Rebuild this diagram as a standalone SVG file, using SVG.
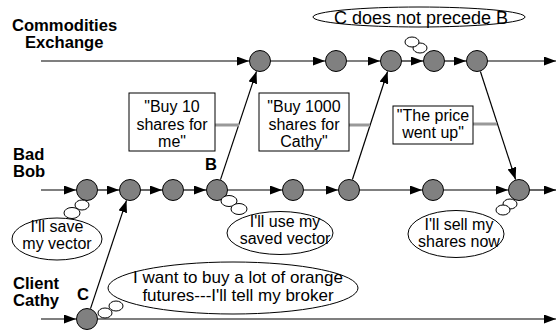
<svg xmlns="http://www.w3.org/2000/svg" width="558" height="330" viewBox="0 0 558 330">
  <style>
    .lane { font-family: "Liberation Sans", Arial, sans-serif; font-size: 16.6px; font-weight: bold; fill: #000; }
    .txt { font-family: "Liberation Sans", Arial, sans-serif; font-size: 16px; fill: #000; }
    .mid { text-anchor: middle; }
    .line { stroke: #000; stroke-width: 1.2; fill: none; }
    .ev { fill: #808080; stroke: #000; stroke-width: 1; }
    .bubble { fill: #fff; stroke: #000; stroke-width: 1; }
    .box { fill: #fff; stroke: #000; stroke-width: 1; }
    .link { stroke: #999; stroke-width: 3; }
  </style>
  <defs>
    <marker id="arr" markerUnits="userSpaceOnUse" markerWidth="12" markerHeight="9" refX="12" refY="4.5" orient="auto">
      <path d="M0,0 L12,4.5 L0,9 z" fill="#000"/>
    </marker>
  </defs>

  <rect width="558" height="330" fill="#fff"/>

  <!-- lane labels -->
  <g id="lane-labels">
    <text class="lane" x="12" y="31">Commodities</text>
    <text class="lane" x="25" y="48">Exchange</text>
    <text class="lane" x="13" y="160">Bad</text>
    <text class="lane" x="13" y="177">Bob</text>
    <text class="lane" x="13" y="289">Client</text>
    <text class="lane" x="13" y="306">Cathy</text>
    <text class="lane" x="205" y="170">B</text>
    <text class="lane" x="77" y="300">C</text>
  </g>

  <!-- connectors: timelines, messages, note links -->
  <g id="connectors">
    <!-- exchange timeline -->
    <line class="line" x1="41" y1="61" x2="249" y2="61" marker-end="url(#arr)"/>
    <line class="line" x1="271" y1="61" x2="325" y2="61" marker-end="url(#arr)"/>
    <line class="line" x1="347" y1="61" x2="380" y2="61" marker-end="url(#arr)"/>
    <line class="line" x1="402" y1="61" x2="423" y2="61" marker-end="url(#arr)"/>
    <line class="line" x1="445" y1="61" x2="466" y2="61" marker-end="url(#arr)"/>
    <line class="line" x1="488" y1="61" x2="556" y2="61" marker-end="url(#arr)"/>
    <!-- Bob timeline -->
    <line class="line" x1="41" y1="190" x2="76" y2="190" marker-end="url(#arr)"/>
    <line class="line" x1="98" y1="190" x2="119" y2="190" marker-end="url(#arr)"/>
    <line class="line" x1="141" y1="190" x2="162" y2="190" marker-end="url(#arr)"/>
    <line class="line" x1="184" y1="190" x2="206" y2="190" marker-end="url(#arr)"/>
    <line class="line" x1="228" y1="190" x2="282" y2="190" marker-end="url(#arr)"/>
    <line class="line" x1="304" y1="190" x2="338" y2="190" marker-end="url(#arr)"/>
    <line class="line" x1="360" y1="190" x2="422" y2="190" marker-end="url(#arr)"/>
    <line class="line" x1="444" y1="190" x2="508" y2="190" marker-end="url(#arr)"/>
    <line class="line" x1="530" y1="190" x2="556" y2="190" marker-end="url(#arr)"/>
    <!-- Cathy timeline -->
    <line class="line" x1="41" y1="319" x2="76" y2="319" marker-end="url(#arr)"/>
    <line class="line" x1="98" y1="319" x2="556" y2="319" marker-end="url(#arr)"/>
    <!-- messages -->
    <line class="line" x1="90.5" y1="308.6" x2="126.5" y2="200.4" marker-end="url(#arr)"/>
    <line class="line" x1="220.5" y1="179.6" x2="256.5" y2="71.4" marker-end="url(#arr)"/>
    <line class="line" x1="352.4" y1="179.5" x2="387.6" y2="71.5" marker-end="url(#arr)"/>
    <line class="line" x1="480.4" y1="71.5" x2="515.6" y2="179.5" marker-end="url(#arr)"/>
    <!-- message content links -->
    <line class="link" x1="215" y1="125" x2="239" y2="125"/>
    <line class="link" x1="349" y1="125" x2="370" y2="125"/>
    <line class="link" x1="473" y1="124" x2="497" y2="124"/>
  </g>

  <!-- exchange events -->
  <g id="ex1"><circle class="ev" cx="260" cy="61" r="10.5"/></g>
  <g id="ex2"><circle class="ev" cx="336" cy="61" r="10.5"/></g>
  <g id="ex3"><circle class="ev" cx="391" cy="61" r="10.5"/></g>
  <g id="ex4"><circle class="ev" cx="434" cy="61" r="10.5"/></g>
  <g id="ex5"><circle class="ev" cx="477" cy="61" r="10.5"/></g>

  <!-- Bob events -->
  <g id="bob1"><circle class="ev" cx="87" cy="190" r="10.5"/></g>
  <g id="bob2"><circle class="ev" cx="130" cy="190" r="10.5"/></g>
  <g id="bob3"><circle class="ev" cx="173" cy="190" r="10.5"/></g>
  <g id="bob4"><circle class="ev" cx="217" cy="190" r="10.5"/></g>
  <g id="bob5"><circle class="ev" cx="293" cy="190" r="10.5"/></g>
  <g id="bob6"><circle class="ev" cx="349" cy="190" r="10.5"/></g>
  <g id="bob7"><circle class="ev" cx="433" cy="190" r="10.5"/></g>
  <g id="bob8"><circle class="ev" cx="519" cy="190" r="10.5"/></g>

  <!-- Cathy event -->
  <g id="cathy1"><circle class="ev" cx="87" cy="319" r="10.5"/></g>

  <!-- message boxes -->
  <g id="msg-buy10">
    <rect class="box" x="129" y="93" width="86" height="58"/>
    <text class="txt mid" x="172" y="112">"Buy 10</text>
    <text class="txt mid" x="172" y="130">shares for</text>
    <text class="txt mid" x="172" y="147">me"</text>
  </g>
  <g id="msg-buy1000">
    <rect class="box" x="259" y="93" width="90" height="58"/>
    <text class="txt mid" x="304" y="112">"Buy 1000</text>
    <text class="txt mid" x="304" y="130">shares for</text>
    <text class="txt mid" x="304" y="147">Cathy"</text>
  </g>
  <g id="msg-price">
    <rect class="box" x="393" y="106" width="80" height="38"/>
    <text class="txt mid" x="433" y="121">"The price</text>
    <text class="txt mid" x="433" y="138">went up"</text>
  </g>

  <!-- thought bubbles -->
  <g id="note-precede">
    <ellipse class="bubble" cx="420" cy="48" rx="7" ry="5"/>
    <ellipse class="bubble" cx="412" cy="42" rx="7" ry="5"/>
    <ellipse class="bubble" cx="419" cy="17" rx="106" ry="10"/>
    <text class="txt mid" x="421" y="24" style="font-size:18px">C does not precede B</text>
  </g>
  <g id="note-save">
    <ellipse class="bubble" cx="82" cy="205" rx="7" ry="5"/>
    <ellipse class="bubble" cx="72" cy="213" rx="8" ry="5.5"/>
    <ellipse class="bubble" cx="57" cy="239" rx="45" ry="21"/>
    <text class="txt mid" x="57" y="232">I'll save</text>
    <text class="txt mid" x="57" y="249">my vector</text>
  </g>
  <g id="note-use">
    <ellipse class="bubble" cx="229" cy="201" rx="8" ry="5.5"/>
    <ellipse class="bubble" cx="239" cy="209" rx="8" ry="5.5"/>
    <ellipse class="bubble" cx="280" cy="233" rx="53" ry="21.5"/>
    <text class="txt mid" x="285" y="227">I'll use my</text>
    <text class="txt mid" x="285" y="244">saved vector</text>
  </g>
  <g id="note-sell">
    <ellipse class="bubble" cx="510" cy="204" rx="7" ry="5"/>
    <ellipse class="bubble" cx="503" cy="210" rx="7" ry="5"/>
    <ellipse class="bubble" cx="456" cy="234" rx="48" ry="23.5"/>
    <text class="txt mid" x="459" y="230">I'll sell my</text>
    <text class="txt mid" x="459" y="247">shares now</text>
  </g>
  <g id="note-cathy">
    <ellipse class="bubble" cx="105" cy="313" rx="7" ry="5"/>
    <ellipse class="bubble" cx="116" cy="306" rx="7" ry="5"/>
    <ellipse class="bubble" cx="233" cy="288" rx="125" ry="26"/>
    <text class="txt mid" x="238" y="283" style="font-size:17px">I want to buy a lot of orange</text>
    <text class="txt mid" x="238" y="301" style="font-size:17px">futures---I'll tell my broker</text>
  </g>
</svg>
